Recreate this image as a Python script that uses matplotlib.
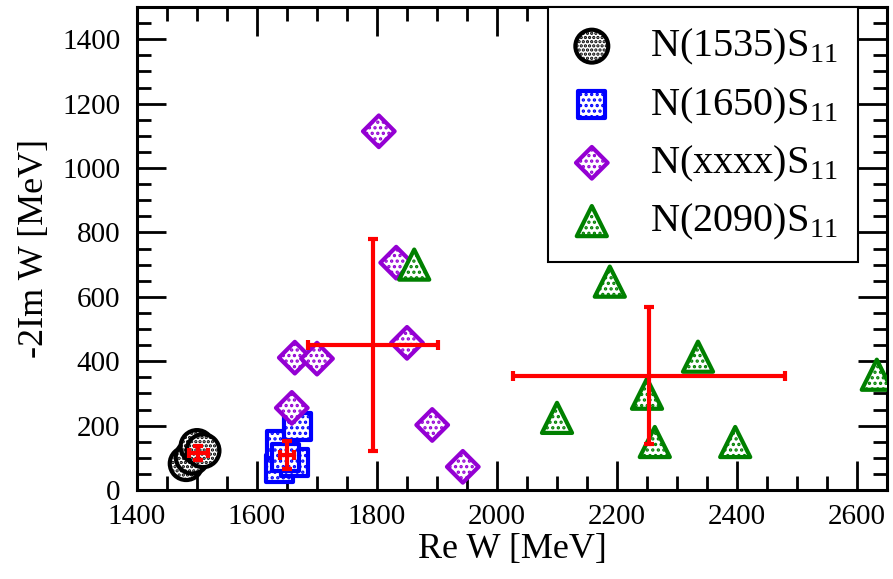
import matplotlib
matplotlib.use('Agg')
from matplotlib import pyplot as plt
from matplotlib.ticker import MultipleLocator

plt.rcParams['font.family'] = ['Liberation Serif', 'DejaVu Serif']
plt.rcParams['mathtext.fontset'] = 'custom'
plt.rcParams['mathtext.rm'] = 'Liberation Serif'
plt.rcParams['hatch.linewidth'] = 1.6

# N(1535)S11 poles
x_1535 = [1482, 1492, 1500, 1510]
y_1535 = [82, 102, 135, 122]
# N(1650)S11 poles
x_1650 = [1638, 1640, 1663, 1668, 1648]
y_1650 = [68, 142, 84, 196, 100]
# N(xxxx)S11 poles
x_xxxx = [1803, 1832, 1850, 1663, 1700, 1658, 1892, 1943]
y_xxxx = [1114, 706, 457, 411, 408, 255, 202, 72]
# N(2090)S11 poles
x_2090 = [1862, 2188, 2335, 2250, 2263, 2397, 2633, 2100]
y_2090 = [700, 647, 414, 299, 149, 149, 358, 224]

# averaged poles with errors
avg_x = [1502, 1650, 1793, 2253]
avg_y = [115, 109, 451, 355]
avg_xerr = [16, 12, 108, 227]
avg_yerr = [23, 44, 330, 213]

labels = [r'N(1535)S$_{11}$', r'N(1650)S$_{11}$', r'N(xxxx)S$_{11}$', r'N(2090)S$_{11}$']

fig = plt.figure(figsize=(8.93, 5.79), dpi=100)
ax = fig.add_axes([137/893, 1-490/579, 750/893, 483/579])

ax.scatter(x_1535, y_1535, marker='o', s=560, facecolors='white', edgecolors='black',
           linewidths=3, hatch='....', label=labels[0], zorder=3)
ax.scatter(x_1650, y_1650, marker='s', s=380, facecolors='white', edgecolors='#0000ff',
           linewidths=3, hatch='...', label=labels[1], zorder=3)
ax.scatter(x_xxxx, y_xxxx, marker='D', s=260, facecolors='white', edgecolors='#9400d3',
           linewidths=3, hatch='...', label=labels[2], zorder=3)
ax.scatter(x_2090, y_2090, marker='^', s=470, facecolors='white', edgecolors='#008000',
           linewidths=3, hatch='...', label=labels[3], zorder=3)

ax.errorbar(avg_x, avg_y, xerr=avg_xerr, yerr=avg_yerr, fmt='none', ecolor='red',
            elinewidth=3, capsize=3.5, capthick=3, zorder=5)

ax.set_xlim(1400, 2650)
ax.set_ylim(0, 1500)
ax.xaxis.set_major_locator(MultipleLocator(200))
ax.xaxis.set_minor_locator(MultipleLocator(50))
ax.yaxis.set_major_locator(MultipleLocator(200))
ax.yaxis.set_minor_locator(MultipleLocator(50))
ax.tick_params(which='both', direction='in', top=True, right=True, width=2, labelsize=21)
ax.tick_params(which='major', length=21)
ax.tick_params(which='minor', length=10)
ax.tick_params(axis='x', pad=10)
ax.tick_params(axis='y', pad=12)
for s in ax.spines.values():
    s.set_linewidth(2.2)

ax.set_xlabel('Re W [MeV]', fontsize=26, labelpad=2)
ax.set_ylabel('-2Im W [MeV]', fontsize=26, labelpad=8)

leg = ax.legend(loc='upper right', bbox_to_anchor=((858-137)/750, 1.0), borderaxespad=0,
                fontsize=29, fancybox=False, framealpha=1, edgecolor='black',
                handletextpad=0.85, labelspacing=0.45, borderpad=0.5, handlelength=1.2)
leg.get_frame().set_linewidth(1.5)
leg.set_zorder(10)

fig.savefig('out.png', dpi=100)
